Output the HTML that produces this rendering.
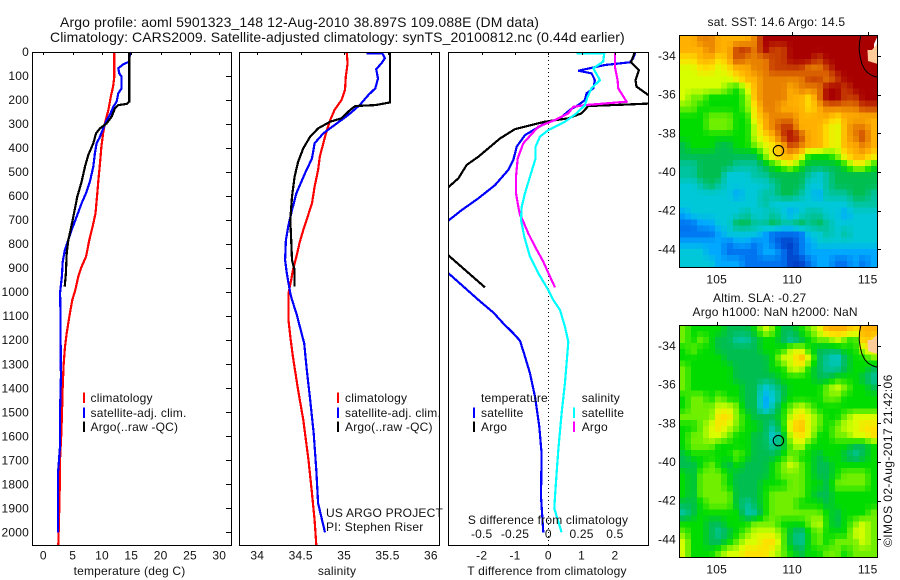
<!DOCTYPE html>
<html>
<head>
<meta charset="utf-8">
<title>Argo profile</title>
<style>
html,body{margin:0;padding:0;background:#fff;}
svg{display:block;}
text{font-family:"Liberation Sans",sans-serif;font-size:12px;fill:#111;letter-spacing:0.2px;}
.t14{font-size:14px;letter-spacing:0.13px;}
.t14b{font-size:14px;letter-spacing:0.085px;}
.vert{letter-spacing:0.4px;}
</style>
</head>
<body>
<svg id="chart" width="900" height="580" viewBox="0 0 900 580" xmlns="http://www.w3.org/2000/svg">
<defs>
<clipPath id="clip-temp"><rect x="32" y="52" width="199" height="493"/></clipPath>
<clipPath id="clip-sal"><rect x="239" y="52" width="200" height="493"/></clipPath>
<clipPath id="clip-diff"><rect x="448" y="52" width="200" height="493"/></clipPath>
<clipPath id="clip-map1"><rect x="679" y="35" width="198" height="232"/></clipPath>
<clipPath id="clip-map2"><rect x="679" y="325" width="198" height="232"/></clipPath>
</defs>
<text class="t14" x="60" y="27">Argo profile: aoml 5901323_148 12-Aug-2010 38.897S 109.088E (DM data)</text>
<text class="t14b" x="50" y="42">Climatology: CARS2009. Satellite-adjusted climatology: synTS_20100812.nc (0.44d earlier)</text>
<text x="707.5" y="26">sat. SST: 14.6 Argo: 14.5</text>
<text x="713" y="302">Altim. SLA: -0.27</text>
<text x="692.5" y="316">Argo h1000: NaN h2000: NaN</text>
<text class="vert" transform="translate(892,547) rotate(-90)">©IMOS 02-Aug-2017 21:42:06</text>
<g id="plots"></g>
</svg>
<script>
// ---------- profile data (depth in m) ----------
const depthTicks = [0,100,200,300,400,500,600,700,800,900,1000,1100,1200,1300,1400,1500,1600,1700,1800,1900,2000];
const tempTicks = [0,5,10,15,20,25,30];
const salTicks = [34,34.5,35,35.5,36];
const salTickLabels = ['34','34.5','35','35.5','36'];
const tDiffTicks = [-2,-1,0,1,2];
const sDiffTicks = [-0.5,-0.25,0,0.25,0.5];
const sDiffTickLabels = ['-0.5','-0.25','0','0.25','0.5'];
const lonTicks = [105,110,115];
const latTicks = [-34,-36,-38,-40,-42,-44];

const climTempDepth = [0,103,144,186,241,297,339,394,463,533,602,672,727,783,852,894,935,991,1032,1102,1171,1227,1296,1393,1504,1588,1699,1851,2052];
const climTempValue = [12.1,12.1,11.9,11.5,11.1,10.5,10.2,9.9,9.66,9.4,9.15,8.9,8.4,7.84,7.27,6.53,5.97,5.45,4.95,4.43,3.98,3.7,3.47,3.3,3.18,3.07,2.84,2.78,2.55];
const satTempDepth = [0,40,51,68,89,103,151,172,207,228,262,283,318,359,380,422,477,540,588,630,686,741,783,824,873,929,1005,1032,1352,1504,1643,1754,2000];
const satTempValue = [14.77,14.66,13.64,12.78,12.95,13.35,13.35,12.78,12.5,11.93,11.36,10.8,10.23,9.55,9.09,8.8,8.52,7.95,7.27,6.53,5.68,4.83,4.26,3.69,3.3,3.18,2.84,2.9,3.0,2.84,2.84,2.5,2.5];
const argoTempDepth = [0,207,216,221,235,269,297,318,339,380,429,477,540,602,672,741,783,838,921,977];
const argoTempValue = [14.66,14.66,14.2,12.78,12.2,11.65,10.8,9.66,8.98,8.52,7.67,7.1,6.53,5.8,5.23,4.66,4.26,3.98,3.86,3.64];

const climSalDepth = [0,47,103,158,200,241,283,339,380,436,491,561,630,686,741,790,852,908,949,1005,1074,1116,1185,1268,1407,1532,1699,1838,1949,2052];
const climSalValue = [35.03,35.04,35.02,35.01,34.97,34.89,34.84,34.79,34.76,34.72,34.70,34.66,34.63,34.58,34.53,34.49,34.45,34.41,34.39,34.36,34.36,34.36,34.38,34.41,34.47,34.53,34.59,34.63,34.66,34.68];
const satSalDepth = [6,6,26,47,72,110,151,179,221,262,304,339,380,443,505,588,658,720,783,866,921,1005,1032,1088,1171,1213,1324,1449,1588,1740,1879,2000];
const satSalValue = [35.26,35.44,35.47,35.43,35.37,35.39,35.36,35.28,35.18,35.05,34.89,34.76,34.66,34.63,34.55,34.45,34.40,34.36,34.33,34.32,34.34,34.38,34.40,34.45,34.51,34.54,34.57,34.61,34.65,34.68,34.70,34.78];
const argoSalDepth = [0,210,221,225,241,276,290,318,352,401,457,519,602,699,783,866,908,977];
const argoSalValue = [35.53,35.53,35.36,35.13,35.07,34.97,34.84,34.70,34.61,34.53,34.47,34.43,34.40,34.38,34.39,34.40,34.43,34.43];

const satTDiffDepth = [0,26,43,54,78,89,117,151,172,200,221,241,276,297,346,394,450,491,554,609,658,702,780,830,880,921,1032,1085,1130,1171,1202,1268,1338,1435,1560,1671,1851,2000];
const satTDiffValue = [2.62,2.55,2.45,1.7,0.9,1.3,1.4,1.35,1.15,1.1,0.9,0.65,0.35,-0.1,-0.7,-0.95,-1.05,-1.2,-1.6,-2.1,-2.6,-3.0,-3.5,-3.6,-3.4,-3.0,-2.1,-1.65,-1.35,-1.05,-0.85,-0.7,-0.55,-0.4,-0.27,-0.2,-0.22,-0.15];
const argoTDiffDepth = [0,43,75,117,144,179,195,215,219,225,255,276,290,321,360,436,470,526,563,620,800,847,980];
const argoTDiffValue = [2.6,2.48,2.72,2.62,2.65,3.0,3.5,3.0,2.3,1.2,1.0,0.6,-0.1,-1.0,-1.45,-2.1,-2.45,-2.7,-3.0,-3.5,-3.8,-3.0,-1.9];
const satSDiffDepth = [6,6,40,68,117,151,186,221,255,290,325,352,394,443,505,588,644,699,769,852,921,991,1032,1074,1143,1206,1296,1380,1504,1657,1754,1851,1900,2000];
const satSDiffValue = [0.2125,0.42,0.4125,0.3375,0.3875,0.325,0.295,0.275,0.2125,0.125,0,-0.0625,-0.095,-0.095,-0.13,-0.175,-0.2,-0.205,-0.18,-0.1375,-0.075,0,0.0375,0.0875,0.125,0.15,0.1375,0.125,0.1,0.075,0.0625,0.05,0.045,0.1];
const argoSDiffDepth = [0,61,117,151,207,216,221,228,255,283,311,380,443,519,588,644,678,706,755,810,873,935,980];
const argoSDiffValue = [0.5,0.5,0.52,0.525,0.5875,0.3875,0.275,0.1875,0.15,0.05,-0.075,-0.1875,-0.23,-0.2425,-0.2425,-0.225,-0.2125,-0.1875,-0.15,-0.1,-0.0375,0.0125,0.05];

// ---------- map data (colour-class values on a 22 x 24 grid) ----------
const sstValues = [
[10,10,11,11,10,10,10,10,11,13,13,13,13,13,13,13,13,13,13,13,13,13],
[10,10,10,11,10,10,12,12,11,13,12,12,13,13,13,13,13,13,13,13,13,13],
[9,9,10,10,9,10,12,11,11,11,12,12,13,13,13,12,13,13,13,13,13,13],
[8,8,9,9,8,9,10,10,11,11,12,12,12,12,11,11,12,13,13,13,13,13],
[8,8,8,8,8,8,9,10,10,11,11,11,11,11,12,12,11,12,13,13,13,13],
[8,8,8,8,8,7,6,8,10,11,11,11,10,11,11,11,13,13,12,13,13,13],
[8,7,7,6,6,6,6,7,10,11,11,11,10,10,9,11,13,13,12,12,13,13],
[7,7,6,6,6,6,6,7,9,11,11,10,10,10,9,10,11,11,11,11,12,12],
[6,6,6,7,7,7,6,6,9,10,11,11,11,10,10,10,10,9,10,10,10,10],
[6,6,6,7,7,7,6,6,8,10,11,12,12,10,10,10,9,8,10,11,11,10],
[6,6,6,6,6,6,6,6,8,9,10,12,13,12,10,10,9,8,10,11,12,10],
[5,6,6,6,5,5,6,6,7,8,9,10,12,11,10,10,9,8,10,10,11,10],
[5,5,5,5,5,5,5,5,5,7,9,10,10,9,6,6,6,7,9,10,10,9],
[4,4,5,5,5,5,4,4,4,5,6,7,8,6,5,5,5,5,6,8,8,6],
[4,4,5,5,5,3,3,3,4,4,5,5,5,5,4,3,4,5,5,5,5,5],
[3,3,4,5,4,3,3,3,3,3,4,5,5,5,3,3,4,5,5,5,5,5],
[3,3,3,3,3,3,2,3,3,4,4,5,5,4,3,2,4,4,4,5,5,4],
[3,3,3,3,3,3,3,3,3,4,3,3,3,3,3,3,3,3,3,4,4,4],
[2,3,3,3,3,3,3,4,3,3,4,3,2,3,4,4,3,3,2,3,3,3],
[1,1,2,2,3,3,5,5,4,4,5,4,4,5,4,5,4,3,3,3,3,3],
[1,1,1,1,2,3,3,3,3,2,1,1,1,1,3,3,4,3,4,3,3,3],
[2,2,2,2,2,1,2,2,1,2,1,0,0,1,2,3,3,3,3,3,3,3],
[3,3,3,2,2,1,1,1,1,2,2,1,0,1,2,2,2,2,2,2,2,2],
[3,3,3,3,2,2,2,1,1,1,1,1,0,0,1,2,2,1,1,2,1,2]
];
const slaValues = [
[7,6,6,6,6,5,5,5,6,8,7,5,5,6,7,8,10,10,10,9,10,10],
[7,6,7,6,5,5,4,4,5,6,6,5,4,5,6,7,7,8,7,6,10,9],
[6,7,6,6,5,5,5,5,5,6,6,6,8,8,6,5,5,5,6,6,8,9],
[6,6,6,6,6,5,5,5,5,5,6,8,8,10,8,5,4,3,5,6,6,7],
[7,6,6,6,6,6,5,5,5,5,6,6,8,8,6,5,4,4,5,6,6,5],
[7,6,6,6,6,6,5,5,5,5,5,6,6,6,6,5,5,6,6,6,5,4],
[7,6,6,6,6,6,6,5,5,3,4,5,6,6,6,6,7,8,7,6,6,5],
[6,7,7,6,7,6,6,5,5,2,3,5,6,6,6,6,7,7,6,6,6,6],
[6,7,7,7,8,8,7,5,5,2,4,6,7,8,7,6,6,6,6,6,6,6],
[7,7,7,7,9,9,7,6,5,5,5,6,8,9,8,7,6,6,7,8,8,8],
[6,6,7,8,9,8,7,6,6,5,4,6,9,10,8,7,6,7,8,8,9,9],
[6,7,7,8,8,7,6,6,5,5,3,5,8,9,8,6,6,7,7,8,8,9],
[6,7,7,7,6,6,6,6,5,5,4,5,7,8,6,6,6,6,6,5,5,6],
[5,6,6,6,6,6,7,6,5,5,5,6,7,6,6,5,6,6,5,4,5,6],
[5,5,6,7,6,5,6,5,5,5,6,7,8,7,6,5,5,6,6,6,6,6],
[6,5,7,7,7,6,5,5,5,5,6,7,7,7,6,5,5,6,7,7,7,6],
[6,5,7,7,7,6,5,5,5,6,6,6,7,7,6,6,5,7,7,7,7,6],
[6,5,7,7,7,7,5,5,5,6,7,7,7,7,6,5,5,6,6,6,6,6],
[5,5,6,7,7,7,5,4,5,6,7,7,7,6,6,6,5,6,6,6,6,6],
[4,5,6,6,6,6,6,4,4,6,7,7,7,7,7,7,6,5,6,6,6,7],
[6,6,6,5,5,6,6,6,7,7,7,6,6,6,7,8,6,5,6,7,8,7],
[7,6,6,5,4,5,6,7,8,8,8,7,5,4,6,7,6,6,6,8,8,7],
[8,6,6,5,5,6,7,8,8,9,9,7,5,4,6,7,6,7,7,7,8,7],
[8,6,6,6,7,8,8,9,9,9,8,7,6,5,6,6,7,7,6,7,7,7]
];
const colorClasses = ['#0040c8','#0074f0','#00a8ff','#00c8d8','#00c4a0','#00be50','#00dc00','#70f000','#d8ff00','#ffe000','#ffb000','#e88000','#c84000','#a80000'];
const profileLon = [109.088];
const profileLat = [-38.897];
const contourLon = [114.55,114.46,114.44,114.5,114.6,114.8,115.04,115.35,115.64];
const contourLat = [-32.91,-33.3,-33.69,-34.05,-34.38,-34.7,-34.9,-35.03,-35.1];
const landLon = [114.99,115.28,115.64,115.64,115.02];
const landLat = [-33.69,-33.69,-33.38,-34.41,-34.26];
const cloudLon = [115.42,115.64,115.64,115.42];
const cloudLat = [-33.38,-33.0,-33.38,-33.6];

// ---------- helpers ----------
const NS = 'http://www.w3.org/2000/svg';
const root = document.getElementById('plots');
function mk(tag, attrs, parent) {
  const el = document.createElementNS(NS, tag);
  for (const k in attrs) el.setAttribute(k, attrs[k]);
  (parent || root).appendChild(el);
  return el;
}
function label(str, x, y, anchor, parent) {
  const el = mk('text', {x: x, y: y, 'text-anchor': anchor || 'start'}, parent);
  el.textContent = str;
  return el;
}
const yDepth = d => 52 + d * 0.2402;
const xTemp = v => 43.3 + v * 5.867;
const xSal = v => 257.3 + (v - 34) * 86.8;
const xTDiff = v => 548.3 + v * 33.3;
const xSDiff = v => 548.3 + v * 133.2;
const xLon = v => 716.7 + (v - 105) * 15.1;
const yLat = (v, top) => top + 21 + (-34 - v) * 19.33;

function drawSeries(name, clip, xFn, depths, values, color) {
  const pts = values.map((v, i) => xFn(v).toFixed(1) + ',' + yDepth(depths[i]).toFixed(1)).join(' ');
  const el = mk('polyline', {points: pts, fill: 'none', stroke: color, 'stroke-width': 2.2, 'clip-path': 'url(#' + clip + ')', 'shape-rendering': 'crispEdges'});
  
  
}
function frame(name, x, y, w, h) {
  const el = mk('rect', {x: x + 0.5, y: y + 0.5, width: w, height: h, fill: 'none', stroke: '#000', 'stroke-width': 1.4, 'shape-rendering': 'crispEdges'});
  
  
}
function line(x1, y1, x2, y2) {
  return mk('line', {x1: x1, y1: y1, x2: x2, y2: y2, stroke: '#000', 'stroke-width': 1, 'shape-rendering': 'crispEdges'});
}
function legendEntry(name, barX, textX, base, color, str) {
  const g = mk('g', {});
  
  
  if (color) mk('rect', {x: barX, y: base - 9.5, width: 2, height: 10.5, fill: color}, g);
  label(str, textX, base, 'start', g);
}

// ---------- temperature panel ----------
drawSeries('climatology-temperature-line', 'clip-temp', xTemp, climTempDepth, climTempValue, '#ff0000');
drawSeries('satellite-temperature-line', 'clip-temp', xTemp, satTempDepth, satTempValue, '#0000ff');
drawSeries('argo-temperature-line', 'clip-temp', xTemp, argoTempDepth, argoTempValue, '#000000');
frame('temperature-panel-frame', 32, 52, 199, 493);
depthTicks.forEach(d => {
  line(226, Math.round(yDepth(d)) + 0.5, 231, Math.round(yDepth(d)) + 0.5);
  label(String(d), 29, yDepth(d) + 4, 'end');
});
tempTicks.forEach(t => {
  line(Math.round(xTemp(t)) + 0.5, 52, Math.round(xTemp(t)) + 0.5, 55);
  label(String(t), xTemp(t), 559.5, 'middle');
});
label('temperature (deg C)', 129.5, 575, 'middle');
legendEntry('legend-climatology-temp', 83, 90.5, 402, '#ff0000', 'climatology');
legendEntry('legend-satellite-temp', 83, 90.5, 417, '#0000ff', 'satellite-adj. clim.');
legendEntry('legend-argo-temp', 83, 90.5, 431, '#000000', 'Argo(..raw -QC)');

// ---------- salinity panel ----------
drawSeries('climatology-salinity-line', 'clip-sal', xSal, climSalDepth, climSalValue, '#ff0000');
drawSeries('satellite-salinity-line', 'clip-sal', xSal, satSalDepth, satSalValue, '#0000ff');
drawSeries('argo-salinity-line', 'clip-sal', xSal, argoSalDepth, argoSalValue, '#000000');
frame('salinity-panel-frame', 239, 52, 200, 493);
salTicks.forEach((t, i) => {
  line(Math.round(xSal(t)) + 0.5, 52, Math.round(xSal(t)) + 0.5, 55);
  label(salTickLabels[i], xSal(t), 559.5, 'middle');
});
label('salinity', 337, 575, 'middle');
legendEntry('legend-climatology-sal', 337, 345, 402, '#ff0000', 'climatology');
legendEntry('legend-satellite-sal', 337, 345, 417, '#0000ff', 'satellite-adj. clim.');
legendEntry('legend-argo-sal', 337, 345, 431, '#000000', 'Argo(..raw -QC)');
label('US ARGO PROJECT', 326, 517);
label('PI: Stephen Riser', 326, 531);

// ---------- difference panel ----------
const zero = mk('line', {x1: 548.5, y1: 52, x2: 548.5, y2: 545, stroke: '#000', 'stroke-width': 1, 'stroke-dasharray': '1 3', 'shape-rendering': 'crispEdges'});


drawSeries('satellite-t-difference-line', 'clip-diff', xTDiff, satTDiffDepth, satTDiffValue, '#0000ff');
drawSeries('argo-t-difference-line', 'clip-diff', xTDiff, argoTDiffDepth, argoTDiffValue, '#000000');
drawSeries('argo-s-difference-line', 'clip-diff', xSDiff, argoSDiffDepth, argoSDiffValue, '#ff00ff');
drawSeries('satellite-s-difference-line', 'clip-diff', xSDiff, satSDiffDepth, satSDiffValue, '#00ffff');
frame('difference-panel-frame', 448, 52, 200, 493);
tDiffTicks.forEach(t => {
  line(Math.round(xTDiff(t)) + 0.5, 52, Math.round(xTDiff(t)) + 0.5, 55);
  label(String(t), xTDiff(t), 559.5, 'middle');
});
sDiffTicks.forEach((t, i) => label(sDiffTickLabels[i], xSDiff(t), 538, 'middle'));
label('S difference from climatology', 548, 524, 'middle');
label('T difference from climatology', 547, 575, 'middle');
legendEntry('legend-temperature-heading', 0, 481, 402, null, 'temperature');
legendEntry('legend-satellite-t', 473, 481, 417, '#0000ff', 'satellite');
legendEntry('legend-argo-t', 473, 481, 431, '#000000', 'Argo');
legendEntry('legend-salinity-heading', 0, 581.7, 402, null, 'salinity');
legendEntry('legend-satellite-s', 573, 581.7, 417, '#00ffff', 'satellite');
legendEntry('legend-argo-s', 573, 581.7, 431, '#ff00ff', 'Argo');

// ---------- maps ----------
function shapePoints(lons, lats, top) {
  return lons.map((v, i) => xLon(v).toFixed(1) + ',' + yLat(lats[i], top).toFixed(1)).join(' ');
}
function hexRgb(h) {
  return [parseInt(h.slice(1, 3), 16), parseInt(h.slice(3, 5), 16), parseInt(h.slice(5, 7), 16)];
}
function colorFor(v) {
  const lo = Math.max(0, Math.min(colorClasses.length - 1, Math.floor(v)));
  const hi = Math.min(colorClasses.length - 1, lo + 1);
  const t = v - lo;
  const a = hexRgb(colorClasses[lo]), b = hexRgb(colorClasses[hi]);
  return 'rgb(' + a.map((c, i) => Math.round(c + (b[i] - c) * t)).join(',') + ')';
}
// Resamples the colour-class grid onto the map's display pixels (about 6 px blocks).
function sampleGrid(grid, gx, gy) {
  const rows = grid.length, cols = grid[0].length;
  const x = Math.max(0, Math.min(cols - 1, gx)), y = Math.max(0, Math.min(rows - 1, gy));
  const x0 = Math.floor(x), y0 = Math.floor(y);
  const x1 = Math.min(cols - 1, x0 + 1), y1 = Math.min(rows - 1, y0 + 1);
  const fx = x - x0, fy = y - y0;
  return (grid[y0][x0] * (1 - fx) + grid[y0][x1] * fx) * (1 - fy) + (grid[y1][x0] * (1 - fx) + grid[y1][x1] * fx) * fy;
}
function drawMap(name, top, clip, grid, showCloud) {
  const clipG = mk('g', {'clip-path': 'url(#' + clip + ')'});
  
  
  const blocksX = 33, blocksY = 39;
  const bw = 198 / blocksX, bh = 232 / blocksY;
  for (let j = 0; j < blocksY; j++) {
    for (let i = 0; i < blocksX; i++) {
      const gx = (i + 0.5) / blocksX * grid[0].length - 0.5;
      const gy = (j + 0.5) / blocksY * grid.length - 0.5;
      const cell = mk('rect', {x: 679 + i * bw, y: top + j * bh, width: bw + 0.5, height: bh + 0.5, fill: colorFor(sampleGrid(grid, gx, gy)), 'shape-rendering': 'crispEdges'}, clipG);
      
      
    }
  }
  if (showCloud) {
    const cloud = mk('polygon', {points: shapePoints(cloudLon, cloudLat, top), fill: '#ffffff'}, clipG);
    
    
  }
  const land = mk('polygon', {points: shapePoints(landLon, landLat, top), fill: '#ffcc99'}, clipG);
  
  
  const contour = mk('polyline', {points: shapePoints(contourLon, contourLat, top), fill: 'none', stroke: '#000', 'stroke-width': 1}, clipG);
  
  
  const marker = mk('circle', {cx: xLon(profileLon[0]), cy: yLat(profileLat[0], top), r: 5.2, fill: 'none', stroke: '#000', 'stroke-width': 1.1}, clipG);
  
  
  frame(name + '-frame', 679, top, 198, 232);
  lonTicks.forEach(t => {
    line(Math.round(xLon(t)) + 0.5, top - 3, Math.round(xLon(t)) + 0.5, top);
    label(String(t), xLon(t), top + 248.5, 'middle');
  });
  latTicks.forEach(t => {
    line(877, Math.round(yLat(t, top)) + 0.5, 881, Math.round(yLat(t, top)) + 0.5);
    label(String(t), 676, yLat(t, top) + 4, 'end');
  });
}
drawMap('sst-map', 35, 'clip-map1', sstValues, true);
drawMap('sla-map', 325, 'clip-map2', slaValues, false);
</script>
</body>
</html>
